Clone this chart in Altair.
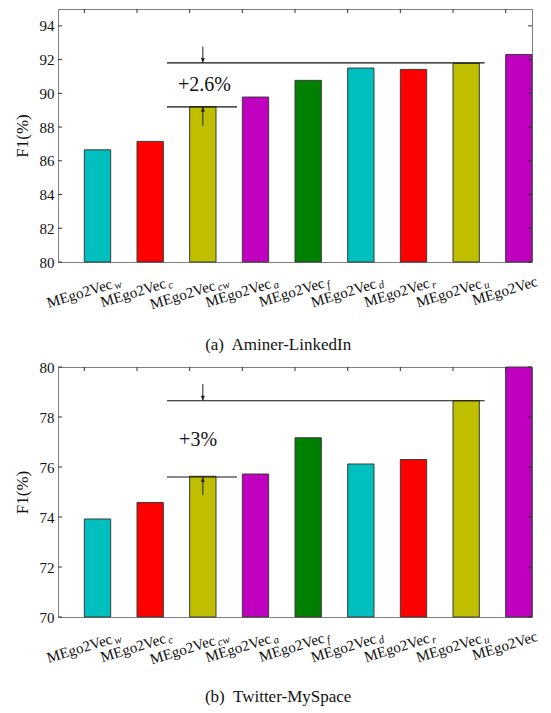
import altair as alt
import pandas as pd

FONT = "Liberation Serif"

base_name = "MEgo2Vec"
subscripts = ["w", "c", "cw", "a", "f", "d", "r", "u", ""]
bar_colors = ["#00BFBF", "#FF0000", "#BFBF00", "#BF00BF", "#008000",
              "#00BFBF", "#FF0000", "#BFBF00", "#BF00BF"]

f1_aminer = [86.65, 87.15, 89.2, 89.78, 90.77, 91.5, 91.42, 91.78, 92.3]
f1_twitter = [73.92, 74.58, 75.63, 75.72, 77.17, 76.12, 76.3, 78.65, 80.0]

ticks_aminer = [80, 82, 84, 86, 88, 90, 92, 94]
ticks_twitter = [70, 72, 74, 76, 78, 80]
domain_aminer = [80, 95]
domain_twitter = [70, 80]

ann_aminer = dict(lo=89.2, hi=91.8, text="+2.6%", text_x=2.78, text_y=90.5,
                  arrow_top=92.78, arrow_bot=88.08)
ann_twitter = dict(lo=75.6, hi=78.65, text="+3%", text_x=2.66, text_y=77.08,
                   arrow_top=79.32, arrow_bot=74.88)

captions = ["(a)\u00a0 Aminer-LinkedIn", "(b)\u00a0 Twitter-MySpace"]

W = 474
N = len(subscripts)

MAIN_W = 69.0
SUB_CHAR = {"w": 7.3, "c": 4.9, "a": 5.5, "f": 3.6, "d": 5.5, "r": 4.3, "u": 5.5}


def panel(vals, dom, yticks, ann, caption, H, cap_dy):
    sx = alt.Scale(domain=[0, N], nice=False, zero=False)
    sy = alt.Scale(domain=dom, nice=False, zero=False)
    yaxis = alt.Axis(values=yticks, title="F1(%)", grid=False, ticks=False,
                     domain=False)

    def Y(field):
        return alt.Y(field, scale=sy, axis=yaxis)

    def X(field):
        return alt.X(field, scale=sx, axis=None)

    bars_df = pd.DataFrame({
        "x0": [i + 0.5 for i in range(N)],
        "x1": [i + 1.0 for i in range(N)],
        "f1": vals,
        "base": [dom[0]] * N,
        "color": bar_colors,
    })
    bars = alt.Chart(bars_df).mark_bar(stroke="#3a3a3a", strokeWidth=1).encode(
        x=X("x0:Q"), x2="x1:Q", y=Y("f1:Q"), y2="base:Q",
        fill=alt.Fill("color:N", scale=None),
    )

    tick_df = pd.DataFrame({"v": yticks})
    left_ticks = alt.Chart(tick_df).mark_rule(color="#333", strokeWidth=1).encode(
        y=Y("v:Q"), x=alt.value(0), x2=alt.value(4))
    right_ticks = alt.Chart(tick_df).mark_rule(color="#333", strokeWidth=1).encode(
        y=Y("v:Q"), x=alt.value(W - 4), x2=alt.value(W))
    top_df = pd.DataFrame({"p": [i + 0.5 for i in range(N)]})
    top_ticks = alt.Chart(top_df).mark_rule(color="#333", strokeWidth=1).encode(
        x=X("p:Q"), y=alt.value(0), y2=alt.value(4))

    ax = 2.75
    lines_df = pd.DataFrame({
        "x0": [2.07, 2.07],
        "x1": [8.1, 3.4],
        "y": [ann["hi"], ann["lo"]],
    })
    lines = alt.Chart(lines_df).mark_rule(color="#111", strokeWidth=1.2).encode(
        x=X("x0:Q"), x2="x1:Q", y=Y("y:Q"))

    shaft_df = pd.DataFrame({
        "x": [ax, ax],
        "ya": [ann["arrow_top"], ann["arrow_bot"]],
        "yb": [ann["hi"], ann["lo"]],
    })
    shafts = alt.Chart(shaft_df).mark_rule(color="#222", strokeWidth=1).encode(
        x=X("x:Q"), y=Y("ya:Q"), y2="yb:Q")

    down_head = alt.Chart(pd.DataFrame({"x": [ax], "y": [ann["hi"]]})).mark_point(
        shape="M-0.4,-1L0.4,-1L0,0Z", size=100, filled=True, opacity=1,
        color="#222").encode(x=X("x:Q"), y=Y("y:Q"))
    up_head = alt.Chart(pd.DataFrame({"x": [ax], "y": [ann["lo"]]})).mark_point(
        shape="M-0.4,1L0.4,1L0,0Z", size=100, filled=True, opacity=1,
        color="#222").encode(x=X("x:Q"), y=Y("y:Q"))

    ann_text = alt.Chart(pd.DataFrame({"t": [ann["text"]], "x": [ann["text_x"]],
                                       "y": [ann["text_y"]]})).mark_text(
        font=FONT, fontSize=20, color="#111", baseline="middle", align="center").encode(
        x=X("x:Q"), y=Y("y:Q"), text="t:N")

    lab_df = pd.DataFrame({
        "idx": list(range(N)),
        "p": [i + 0.5 for i in range(N)],
        "base": [dom[0]] * N,
        "name": [base_name] * N,
        "sub": subscripts,
    })
    label_layers = []
    u_c = -10.0
    for i, s in enumerate(subscripts):
        sw = sum(SUB_CHAR[ch] for ch in s)
        gap = 2.0 if s else 0.0
        total = MAIN_W + gap + sw
        u_end = u_c + total / 2 - gap - sw
        v = 32 + 0.3 * (u_end + gap + sw - 24)
        main = alt.Chart(lab_df).transform_filter(alt.datum.idx == i).mark_text(
            font=FONT, fontSize=15, color="#111", angle=343, align="right",
            baseline="alphabetic", dx=u_end, dy=v).encode(
            x=X("p:Q"), y=Y("base:Q"), text="name:N")
        label_layers.append(main)
        if s:
            sub = alt.Chart(lab_df).transform_filter(alt.datum.idx == i).mark_text(
                font=FONT, fontSize=11, fontStyle="italic", color="#111", angle=343,
                align="left", baseline="alphabetic", dx=u_end + gap, dy=v + 2).encode(
                x=X("p:Q"), y=Y("base:Q"), text="sub:N")
            label_layers.append(sub)

    cap = alt.Chart(pd.DataFrame({"t": [caption], "x": [4.18], "y": [dom[0]]})).mark_text(
        font=FONT, fontSize=17, color="#111", baseline="middle", align="center",
        dy=cap_dy).encode(x=X("x:Q"), y=Y("y:Q"), text="t:N")

    return alt.layer(bars, left_ticks, right_ticks, top_ticks, lines, shafts,
                     down_head, up_head, ann_text, *label_layers, cap).properties(
        width=W, height=H)


top = panel(f1_aminer, domain_aminer, ticks_aminer, ann_aminer, captions[0], 253, 83)
bottom = panel(f1_twitter, domain_twitter, ticks_twitter, ann_twitter, captions[1], 250, 80)

chart = alt.vconcat(top, bottom, spacing=5).properties(
    padding={"left": 4, "top": 0, "right": 0, "bottom": 0}
).configure_view(stroke="#808080", strokeWidth=1).configure_axis(
    labelFont=FONT, labelFontSize=15, labelColor="#111", labelPadding=4,
    titleFont=FONT, titleFontSize=17, titleFontWeight="normal", titleColor="#111",
    titlePadding=8)

chart.save("out.html", embed_options={"renderer": "svg", "actions": False})
